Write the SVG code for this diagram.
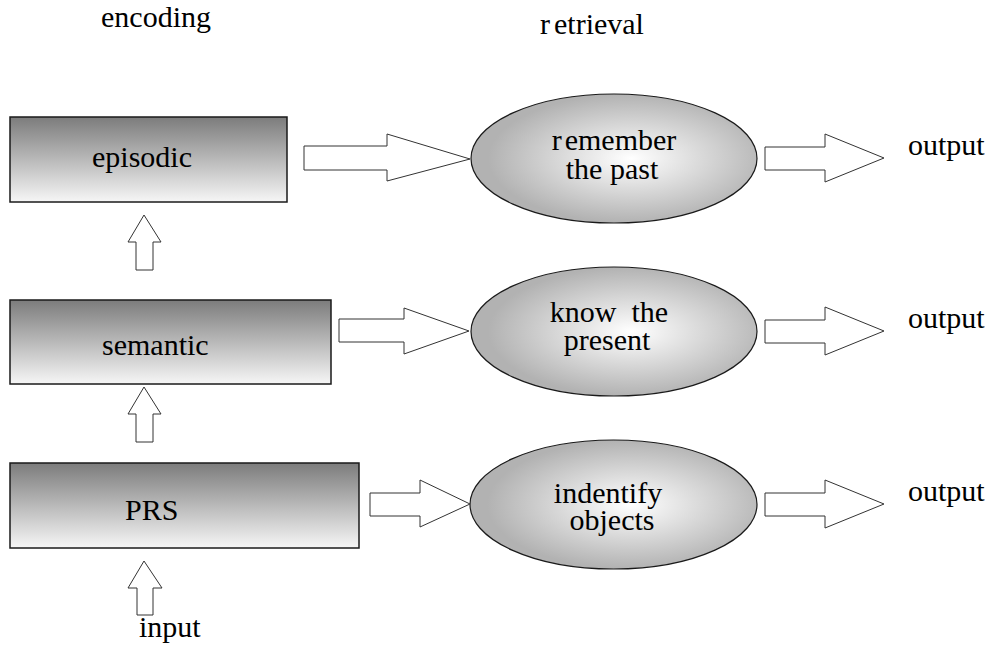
<svg xmlns="http://www.w3.org/2000/svg" width="993" height="657" viewBox="0 0 993 657">
  <defs>
    <linearGradient id="boxFill" x1="0" y1="0" x2="0" y2="1">
      <stop offset="0" stop-color="#7c7c7c"/>
      <stop offset="1" stop-color="#f6f6f6"/>
    </linearGradient>
    <radialGradient id="ovalFill" cx="0.56" cy="0.5" r="0.5" fx="0.56" fy="0.5">
      <stop offset="0" stop-color="#ffffff"/>
      <stop offset="1" stop-color="#b2b2b2"/>
    </radialGradient>
  </defs>
  <style>
    .box { fill: url(#boxFill); stroke: #1a1a1a; stroke-width: 1.5; }
    .oval { fill: url(#ovalFill); stroke: #1a1a1a; stroke-width: 1.2; }
    .arrow { fill: #ffffff; stroke: #333333; stroke-width: 1; }
    .mid { text-anchor: middle; }
    .lbl { font-family: "Times New Roman", Tinos, "Liberation Serif", "DejaVu Serif", serif; font-size: 30px; fill: #000000; }
  </style>

  <!-- column headings -->
  <text class="lbl" x="101" y="27">encoding</text>
  <text class="lbl" x="540" y="34">r<tspan dx="4">etrieval</tspan></text>

  <!-- encoding stages -->
  <g id="episodic">
    <rect class="box" x="10" y="117" width="277" height="85"/>
    <text class="lbl" x="92" y="167">episodic</text>
  </g>
  <g id="semantic">
    <rect class="box" x="10" y="300" width="321" height="84"/>
    <text class="lbl" x="102" y="355">semantic</text>
  </g>
  <g id="prs">
    <rect class="box" x="10" y="463" width="349" height="85"/>
    <text class="lbl" x="125" y="520">PRS</text>
  </g>

  <!-- retrieval stages -->
  <g id="remember">
    <ellipse class="oval" cx="614" cy="158.5" rx="143" ry="64.5"/>
    <text class="lbl mid" x="614" y="150">r<tspan dx="3">emember</tspan></text>
    <text class="lbl mid" x="612" y="179">the past</text>
  </g>
  <g id="know">
    <ellipse class="oval" cx="614" cy="331.5" rx="143" ry="64.5"/>
    <text class="lbl mid" x="609" y="322" xml:space="preserve">know  the</text>
    <text class="lbl mid" x="607" y="350">present</text>
  </g>
  <g id="identify">
    <ellipse class="oval" cx="613.5" cy="504.5" rx="143.5" ry="64.5"/>
    <text class="lbl mid" x="608" y="503">indentify</text>
    <text class="lbl mid" x="612" y="530">objects</text>
  </g>

  <!-- endpoints -->
  <g id="input">
    <text class="lbl" x="139" y="637">input</text>
  </g>
  <g id="output1">
    <text class="lbl" x="908" y="155">output</text>
  </g>
  <g id="output2">
    <text class="lbl" x="908" y="328">output</text>
  </g>
  <g id="output3">
    <text class="lbl" x="908" y="501">output</text>
  </g>

  <!-- block arrows -->
  <g id="connectors">
    <!-- upward flow -->
    <polygon class="arrow" points="144,215 161,242 153,242 153,270 136,270 136,242 128,242"/>
    <polygon class="arrow" points="144,387 161,414 153,414 153,442 136,442 136,414 128,414"/>
    <polygon class="arrow" points="144,561 162,588 153,588 153,615 137,615 137,588 128,588"/>
    <!-- encoding to retrieval -->
    <polygon class="arrow" points="304,146 387,146 387,134 470,159 387,181 387,170 304,170"/>
    <polygon class="arrow" points="339,319 404,319 404,308 469,331 404,354 404,342 339,342"/>
    <polygon class="arrow" points="370,493 420,493 420,480 470,504 420,527 420,516 370,516"/>
    <!-- retrieval to output -->
    <polygon class="arrow" points="765,147 825,147 825,134 884,158 825,182 825,170 765,170"/>
    <polygon class="arrow" points="765,320 825,320 825,307 884,331 825,355 825,343 765,343"/>
    <polygon class="arrow" points="765,493 825,493 825,480 884,504 825,528 825,516 765,516"/>
  </g>
</svg>
